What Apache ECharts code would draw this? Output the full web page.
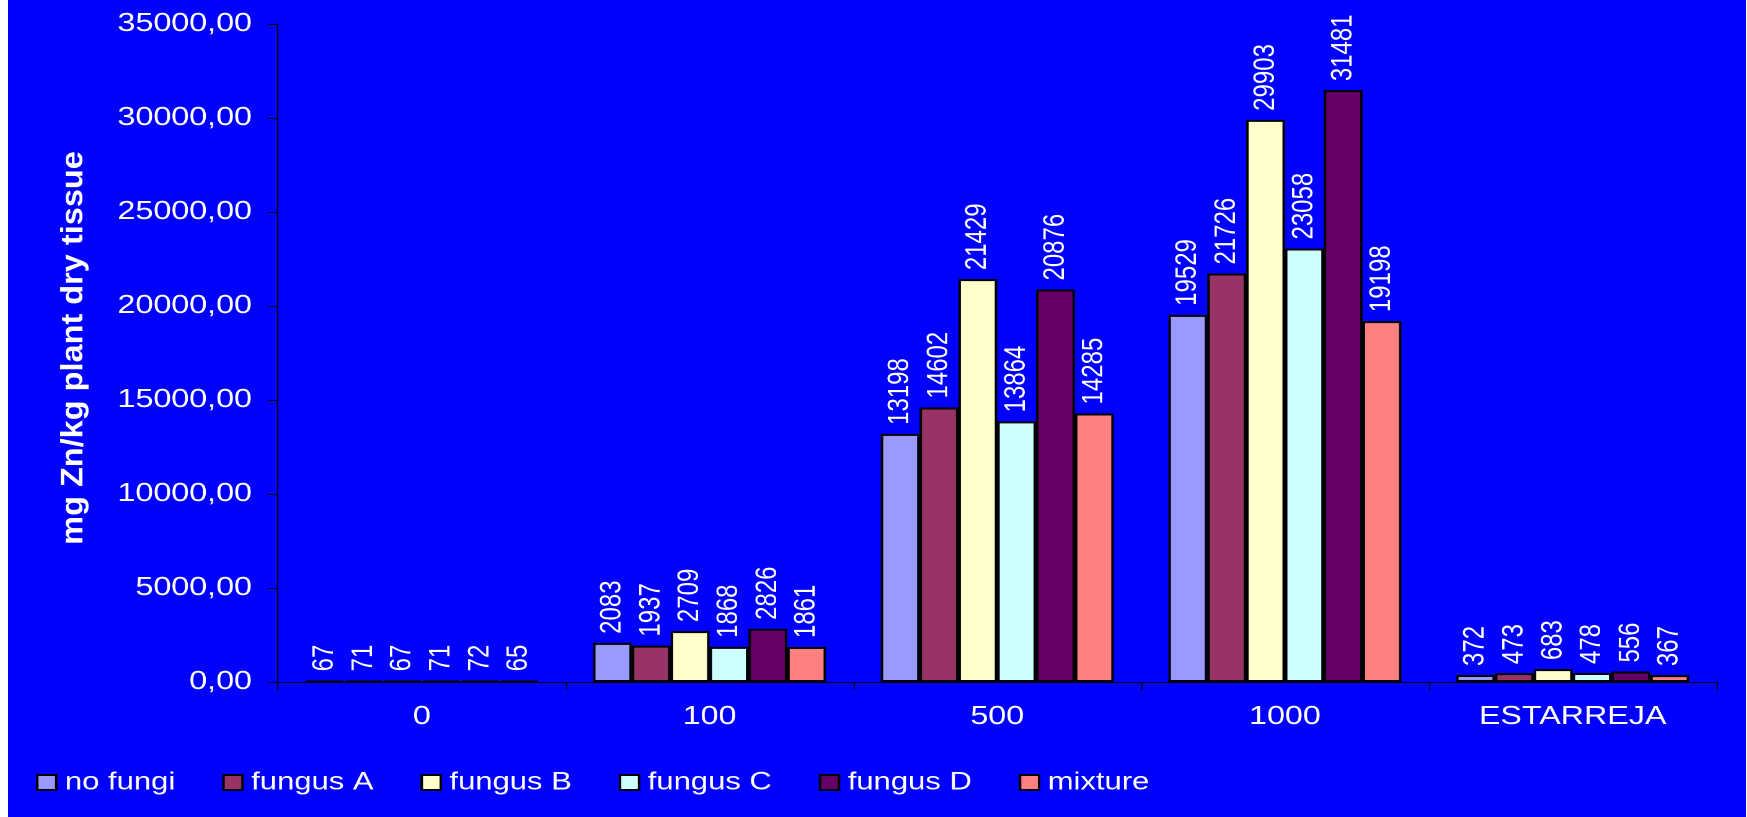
<!DOCTYPE html>
<html>
<head>
<meta charset="utf-8">
<script src="https://cdn.jsdelivr.net/npm/echarts@6/dist/echarts.min.js"></script>
<style>
  html, body { margin: 0; padding: 0; background: #ffffff; overflow: hidden; width: 1747px; height: 817px; }
  #chart { position: absolute; left: 8px; top: 0; height: 817px; transform-origin: 0 0; }
</style>
</head>
<body>
<div id="chart"></div>
<script>
// Zn concentration by soil dose and fungal treatment
const categories = ['0', '100', '500', '1000', 'ESTARREJA'];
const seriesNames = ['no fungi', 'fungus A', 'fungus B', 'fungus C', 'fungus D', 'mixture'];
const noFungi  = [67, 2083, 13198, 19529, 372];
const fungusA  = [71, 1937, 14602, 21726, 473];
const fungusB  = [67, 2709, 21429, 29903, 683];
const fungusC  = [71, 1868, 13864, 23058, 478];
const fungusD  = [72, 2826, 20876, 31481, 556];
const mixture  = [65, 1861, 14285, 19198, 367];
const yTicks = { min: 0, max: 35000, interval: 5000 };
const axisTitle = 'mg Zn/kg plant dry tissue';

const seriesValues = [noFungi, fungusA, fungusB, fungusC, fungusD, mixture];
const colors = ['#9999FF', '#993366', '#FFFFCC', '#CCFFFF', '#660066', '#FF8080'];

// the drawing is widened horizontally, like the original wide layout
const sx = 1.24;
const fullW = 1739;
const W = fullW / sx;
const el = document.getElementById('chart');
el.style.width = W + 'px';
el.style.transform = 'scaleX(' + sx + ')';

const font = "'Liberation Sans', Arial, sans-serif";
const chart = echarts.init(el, null, { renderer: 'canvas', devicePixelRatio: 2 });

const gridLeft = (278 - 8) / sx;
const gridRight = W - (1717 - 8) / sx;

chart.setOption({
  backgroundColor: '#0000FF',
  animation: false,
  textStyle: { fontFamily: font },
  grid: { left: gridLeft, right: gridRight, top: 24, bottom: 135, containLabel: false },
  legend: {
    bottom: 22,
    left: (36 - 8) / sx,
    padding: 0,
    itemWidth: 19 / sx,
    itemHeight: 15,
    itemGap: 47 / sx,
    icon: 'rect',
    textStyle: { color: '#ffffff', fontSize: 25, fontFamily: font, padding: [0, 0, 0, 2] },
    data: seriesNames
  },
  graphic: [{
    type: 'text',
    x: (74 - 8) / sx,
    y: 348,
    rotation: Math.PI / 2,
    scaleX: 1.3,
    style: {
      text: axisTitle,
      fill: '#ffffff',
      font: "bold 25px 'Liberation Sans', Arial, sans-serif",
      textAlign: 'center',
      textVerticalAlign: 'middle',
      align: 'center',
      verticalAlign: 'middle'
    }
  }],
  xAxis: {
    type: 'category',
    data: categories,
    axisLine: { lineStyle: { color: '#000000', width: 1 } },
    axisTick: { show: true, length: 8, lineStyle: { color: '#000000' } },
    axisLabel: { color: '#ffffff', fontSize: 26, margin: 22, fontFamily: font },
    splitLine: { show: false }
  },
  yAxis: {
    type: 'value',
    min: yTicks.min,
    max: yTicks.max,
    interval: yTicks.interval,
    axisLine: { show: true, lineStyle: { color: '#000000', width: 1 } },
    axisTick: { show: true, length: 8, lineStyle: { color: '#000000' } },
    axisLabel: {
      color: '#ffffff', fontSize: 26, margin: 21, fontFamily: font,
      formatter: v => v.toFixed(2).replace('.', ',')
    },
    splitLine: { show: false }
  },
  series: seriesNames.map((name, i) => ({
    name: name,
    type: 'bar',
    data: seriesValues[i],
    barGap: '0%',
    barCategoryGap: '19%',
    itemStyle: { color: colors[i], borderColor: '#000000', borderWidth: 2 },
    label: {
      show: true,
      position: 'top',
      rotate: 90,
      align: 'left',
      verticalAlign: 'middle',
      distance: 9,
      color: '#ffffff',
      fontSize: 24,
      fontFamily: font
    }
  }))
});
</script>
</body>
</html>
